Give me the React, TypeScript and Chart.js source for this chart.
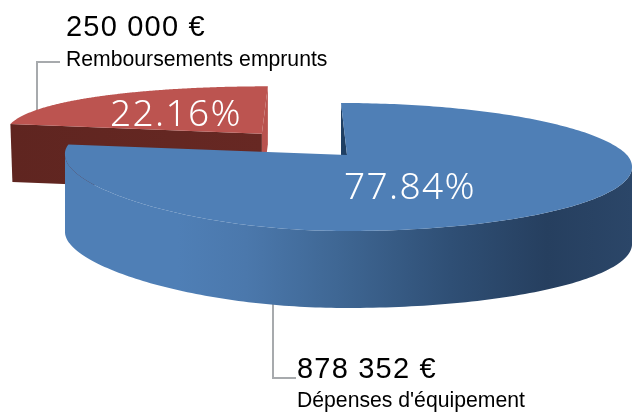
import React, { useEffect, useRef } from "react";
import { Chart, registerables } from "chart.js";

Chart.register(...registerables);

const categories = ["Dépenses d'équipement", "Remboursements emprunts"];
const amounts = [878352, 250000];
const amountLabels = ["878 352 €", "250 000 €"];

const W = 632;
const H = 412;
const APEX = { x: 347, y: 155 };
const PROJ = { rxL: 282, rxR: 280, ry: 61.75, k: 0.1875 };

function project(u: number, v: number, ax: number, ay: number, scale: number, skew: number) {
  const s = 1 / (1 + PROJ.k * v);
  const x = ax + (u < 0 ? PROJ.rxL * u : PROJ.rxR * u * s) * scale + skew * Math.max(v, 0);
  const y = ay - PROJ.ry * scale * v * s;
  return { x, y };
}

function poly(ctx: CanvasRenderingContext2D, pts: { x: number; y: number }[], fill: any) {
  ctx.beginPath();
  pts.forEach((p, i) => (i ? ctx.lineTo(p.x, p.y) : ctx.moveTo(p.x, p.y)));
  ctx.closePath();
  ctx.fillStyle = fill;
  ctx.fill();
}

function text(ctx: CanvasRenderingContext2D, s: string, x: number, y: number, font: string, color: string, spacing = 0) {
  ctx.font = font;
  ctx.fillStyle = color;
  ctx.textAlign = "left";
  ctx.textBaseline = "alphabetic";
  (ctx as any).letterSpacing = spacing + "px";
  ctx.fillText(s, x, y);
  (ctx as any).letterSpacing = "0px";
}

function leader(ctx: CanvasRenderingContext2D, pts: number[][]) {
  ctx.beginPath();
  pts.forEach((p, i) => (i ? ctx.lineTo(p[0], p[1]) : ctx.moveTo(p[0], p[1])));
  ctx.strokeStyle = "#a7aaad";
  ctx.lineWidth = 2;
  ctx.stroke();
}

const pie3d = {
  id: "pie3d",
  beforeDatasetsDraw(chart: any) {
    const ctx: CanvasRenderingContext2D = chart.ctx;
    const arcs = chart.getDatasetMeta(0).data;
    const total = amounts.reduce((a, b) => a + b, 0);

    const rim = (el: any, ax: number, ay: number, scale: number, skew: number) => {
      const pts = [];
      const n = 260;
      for (let i = 0; i <= n; i++) {
        const a = el.startAngle + ((el.endAngle - el.startAngle) * i) / n;
        const u = Math.cos(a);
        const v = -Math.sin(a);
        pts.push({ ...project(u, v, ax, ay, scale, skew), u, v });
      }
      return pts;
    };

    leader(ctx, [[37, 112], [37, 62], [60, 62]]);
    leader(ctx, [[273, 304], [273, 378], [296, 378]]);

    // Remboursements: pulled-out slice, further away
    const red = arcs[1];
    const mid = (red.startAngle + red.endAngle) / 2;
    const off = red.options.offset / red.outerRadius;
    const redApex = project(Math.cos(mid) * off, -Math.sin(mid) * off, APEX.x + 2, APEX.y, 1, 0);
    const redScale = 0.91;
    const redDepth = 58;
    const redRim = rim(red, redApex.x, redApex.y, redScale, 6);
    const corner = redRim[0];
    const tip = redRim[redRim.length - 1];
    const down = (p: any, d: number) => ({ x: p.x, y: p.y + d });
    poly(ctx, [redApex, tip, down(tip, redDepth), down(redApex, redDepth)], "#b9524e");
    const wall = ctx.createLinearGradient(10, 0, 262, 0);
    wall.addColorStop(0, "#5f2520");
    wall.addColorStop(1, "#672823");
    poly(ctx, [corner, redApex, down(redApex, redDepth), { x: corner.x + 2, y: corner.y + redDepth }], wall);
    poly(ctx, [redApex, ...redRim], "#bc5450");

    // Dépenses: main body
    const blue = arcs[0];
    const blueDepth = 77;
    const blueRim = rim(blue, APEX.x, APEX.y, 1, -6);
    const top = blueRim[0];
    poly(ctx, [APEX, top, down(top, blueDepth), down(APEX, blueDepth)], "#1f3f63");
    const side = ctx.createLinearGradient(64, 0, 632, 0);
    side.addColorStop(0, "#4f7fb6");
    side.addColorStop(0.2, "#4f7fb6");
    side.addColorStop(0.32, "#4b78ac");
    side.addColorStop(0.48, "#3f6794");
    side.addColorStop(0.68, "#2f4f75");
    side.addColorStop(0.85, "#263f5f");
    side.addColorStop(1, "#2b4668");
    const front = blueRim.filter((p: any) => (p.u > 0 ? p.v <= -PROJ.k : p.v <= 0));
    poly(ctx, [...front, ...front.slice().reverse().map((p: any) => down(p, blueDepth))], side);
    poly(ctx, [APEX, ...blueRim], "#4f7fb6");

    const pct = (v: number) => ((v / total) * 100).toFixed(2) + "%";
    const pctFont = '300 37px "Noto Sans"';
    text(ctx, pct(amounts[1]), 110, 126, pctFont, "#ffffff", 1.4);
    text(ctx, pct(amounts[0]), 344, 199, pctFont, "#ffffff", 1.4);

    const bigFont = '29px "Liberation Sans"';
    const smallFont = '21.2px "Liberation Sans"';
    text(ctx, amountLabels[1], 66, 36, bigFont, "#000000", 1.2);
    text(ctx, categories[1], 66, 66, smallFont, "#000000");
    text(ctx, amountLabels[0], 297, 378, bigFont, "#000000", 1.2);
    text(ctx, categories[0], 297, 407, smallFont, "#000000");
    return false;
  },
};

export default function App() {
  const ref = useRef<HTMLCanvasElement>(null);
  useEffect(() => {
    const chart = new Chart(ref.current!, {
      type: "pie",
      data: {
        labels: categories,
        datasets: [
          {
            data: amounts,
            backgroundColor: ["#4f7fb6", "#bc5450"],
            borderWidth: 0,
            offset: [0, 80],
          },
        ],
      },
      options: {
        responsive: false,
        animation: false,
        layout: { padding: 0 },
        plugins: { legend: { display: false }, tooltip: { enabled: false } },
      },
      plugins: [pie3d],
    } as any);
    return () => chart.destroy();
  }, []);
  return (
    <div style={{ position: "fixed", left: 0, top: 0, width: W, height: H, background: "#fff" }}>
      <canvas ref={ref} width={W} height={H} style={{ display: "block" }} />
    </div>
  );
}
